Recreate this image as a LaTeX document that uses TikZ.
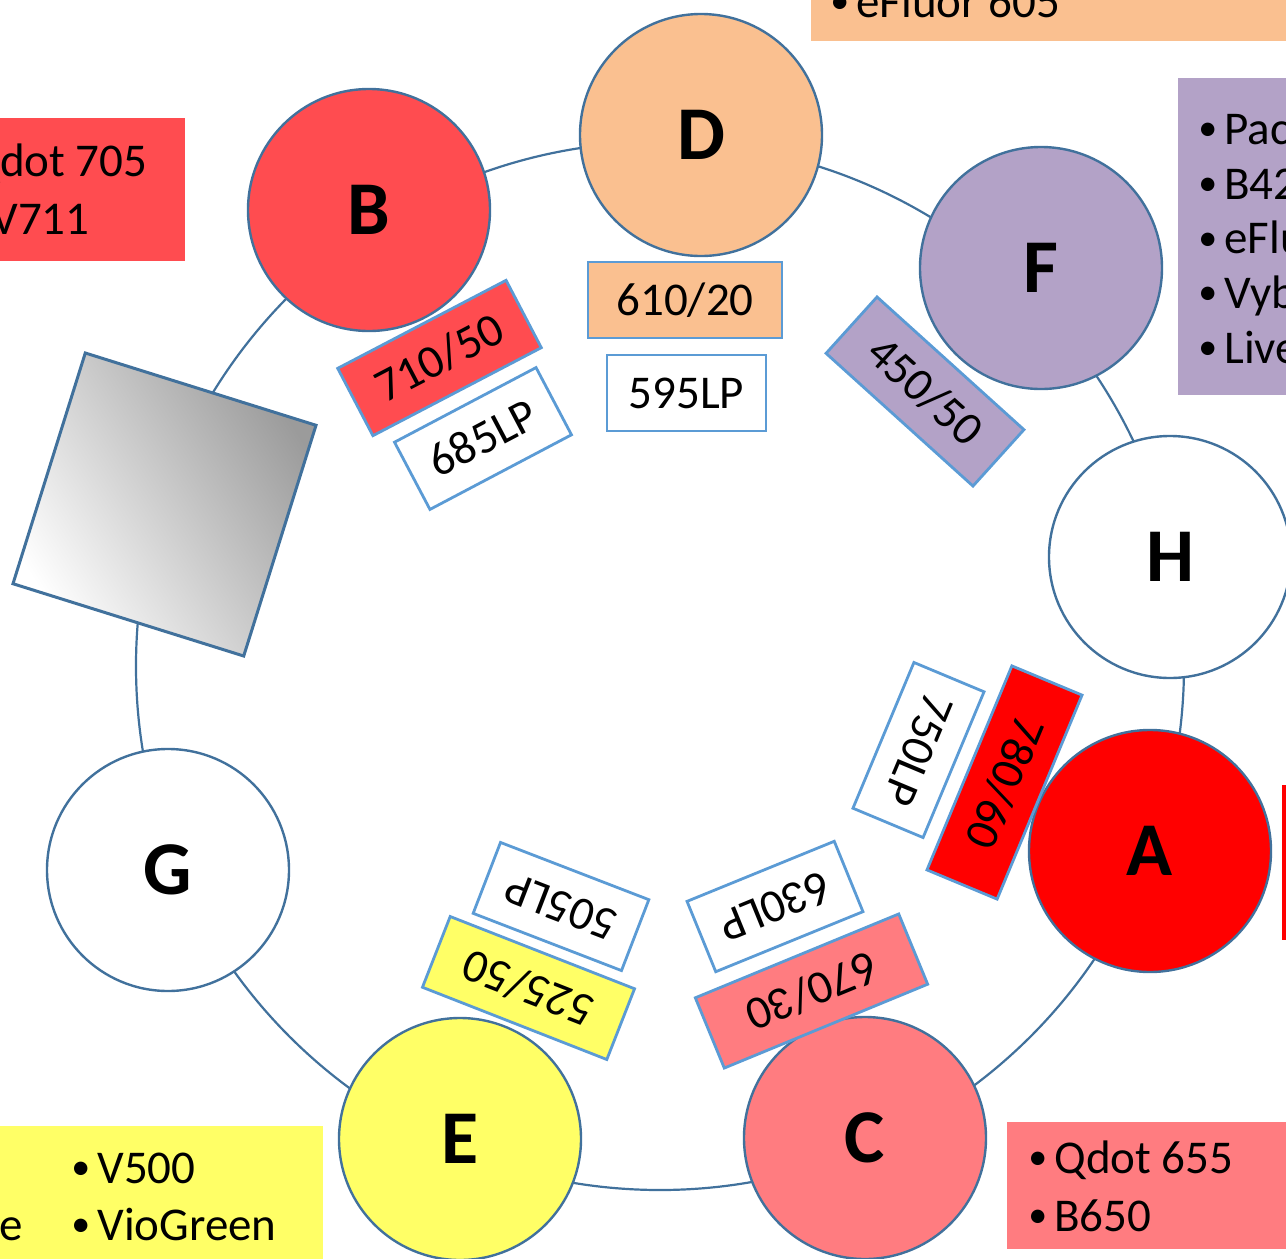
\documentclass[tikz,border=0pt]{standalone}
\usepackage{fontspec}
\setmainfont{Carlito}
\definecolor{ring}{RGB}{65,113,156}
\definecolor{fbord}{RGB}{91,155,213}
\definecolor{cB}{RGB}{255,76,80}
\definecolor{cD}{RGB}{250,192,144}
\definecolor{cF}{RGB}{179,162,199}
\definecolor{cA}{RGB}{255,0,0}
\definecolor{cC}{RGB}{255,124,128}
\definecolor{cE}{RGB}{255,255,102}
\definecolor{sqgray}{RGB}{155,155,155}
\newcommand\bul{\makebox[13pt][l]{\raisebox{1.6pt}{\fontsize{19}{19}\selectfont •}}}
\begin{document}
\begin{tikzpicture}[x=0.5pt,y=-0.5pt,
  dye/.style={circle, draw=ring, line width=1.2pt, minimum size=121pt, inner sep=0pt,
    font=\fontsize{38}{40}\selectfont\bfseries, text height=24.3pt, text depth=0pt},
  filt/.style={draw=fbord, line width=1.4pt, minimum height=38pt, inner sep=0pt,
    font=\fontsize{23.5}{26}\selectfont, text height=15pt, text depth=0pt},
  lbl/.style={anchor=base west, inner sep=0pt, font=\fontsize{23.5}{26}\selectfont},
  ringline/.style={draw=ring, line width=1.1pt}]
\useasboundingbox (0,0) rectangle (1286,1259);
\clip (0,0) rectangle (1286,1259);
% ring
\coordinate (ringc) at (660,666);
\draw[ringline] (ringc) circle[radius=262pt];
% mirror square
\node[minimum size=120.5pt, inner sep=0pt, rotate=-17.4] (mirror) at (164.5,504.5) {};
\shade[top color=sqgray, bottom color=white, shading angle=-58]
  (mirror.north west) -- (mirror.north east) -- (mirror.south east) -- (mirror.south west) -- cycle;
\draw[draw=ring, line width=1.5pt]
  (mirror.north west) -- (mirror.north east) -- (mirror.south east) -- (mirror.south west) -- cycle;
% dye colour boxes
\fill[cD] (811,-20) rectangle (1300,41);
\fill[cF] (1178,78) rectangle (1300,395);
\fill[cB] (-20,118) rectangle (185,261);
\fill[cE] (-20,1126) rectangle (323,1280);
\fill[cC] (1007,1122) rectangle (1300,1249);
\fill[cA] (1282,785) rectangle (1300,940);
% texts in colour boxes
\node[lbl] (tD1) at (830,17) {\bul eFluor 605};
\node[lbl] (tF1) at (1198,144) {\bul Pacific Blue};
\node[lbl] (tF2) at (1198,199) {\bul B421};
\node[lbl] (tF3) at (1198,253.5) {\bul eFluor 450};
\node[lbl] (tF4) at (1198,308) {\bul Vybrant Violet};
\node[lbl] (tF5) at (1198,363) {\bul Live/Dead Violet};
\node[lbl] (tB1) at (-58,176) {\bul Qdot 705};
\node[lbl] (tB2) at (-60,234) {\bul BV711};
\node[lbl] (tE1) at (71,1183) {\bul V500};
\node[lbl] (tE2) at (71,1240) {\bul VioGreen};
\node[lbl, anchor=base east] (tE3) at (23,1240) {e};
\node[lbl] (tC1) at (1028,1173) {\bul Qdot 655};
\node[lbl] (tC2) at (1028,1231) {\bul B650};
% dye circles
\node[dye, fill=cB] (B) at (369,210) {B};
\node[dye, fill=cD] (D) at (701,135) {D};
\node[dye, fill=cF] (F) at (1041,268) {F};
\node[dye, fill=white] (H) at (1170,557) {H};
\node[dye, fill=cA] (A) at (1150,851) {A};
\node[dye, fill=cC] (C) at (865,1138) {C};
\node[dye, fill=cE] (E) at (460,1139) {E};
\node[dye, fill=white] (G) at (168,870) {G};
% filters
\node[filt, fill=cB, minimum width=95pt, rotate=27.6] (f710) at (439.5,358) {710/50};
\node[filt, fill=white, minimum width=80pt, rotate=27.8] (f685) at (483,438.5) {685LP};
\node[filt, fill=cD, minimum width=97pt] (f610) at (685,300) {610/20};
\node[filt, fill=white, minimum width=79.5pt] (f595) at (686.5,393) {595LP};
\node[filt, fill=cF, minimum width=99pt, rotate=-42.1] (f450) at (925,391.5) {450/50};
\node[filt, fill=white, minimum width=79pt, rotate=-112.7] (f750) at (918.5,750) {750LP};
\node[filt, fill=cA, minimum width=110.5pt, rotate=-112.6] (f780) at (1004.5,782.5) {780/60};
\node[filt, fill=white, minimum width=79.5pt, rotate=202.2] (f630) at (775,906.5) {630LP};
\node[filt, fill=cC, minimum width=110pt, rotate=202.4] (f670) at (811.5,991) {670/30};
\node[filt, fill=white, minimum width=79.5pt, rotate=158.9] (f505) at (561,906.5) {505LP};
\node[filt, fill=cE, minimum width=99pt, rotate=158.6] (f525) at (528.5,988) {525/50};
\end{tikzpicture}
\end{document}
